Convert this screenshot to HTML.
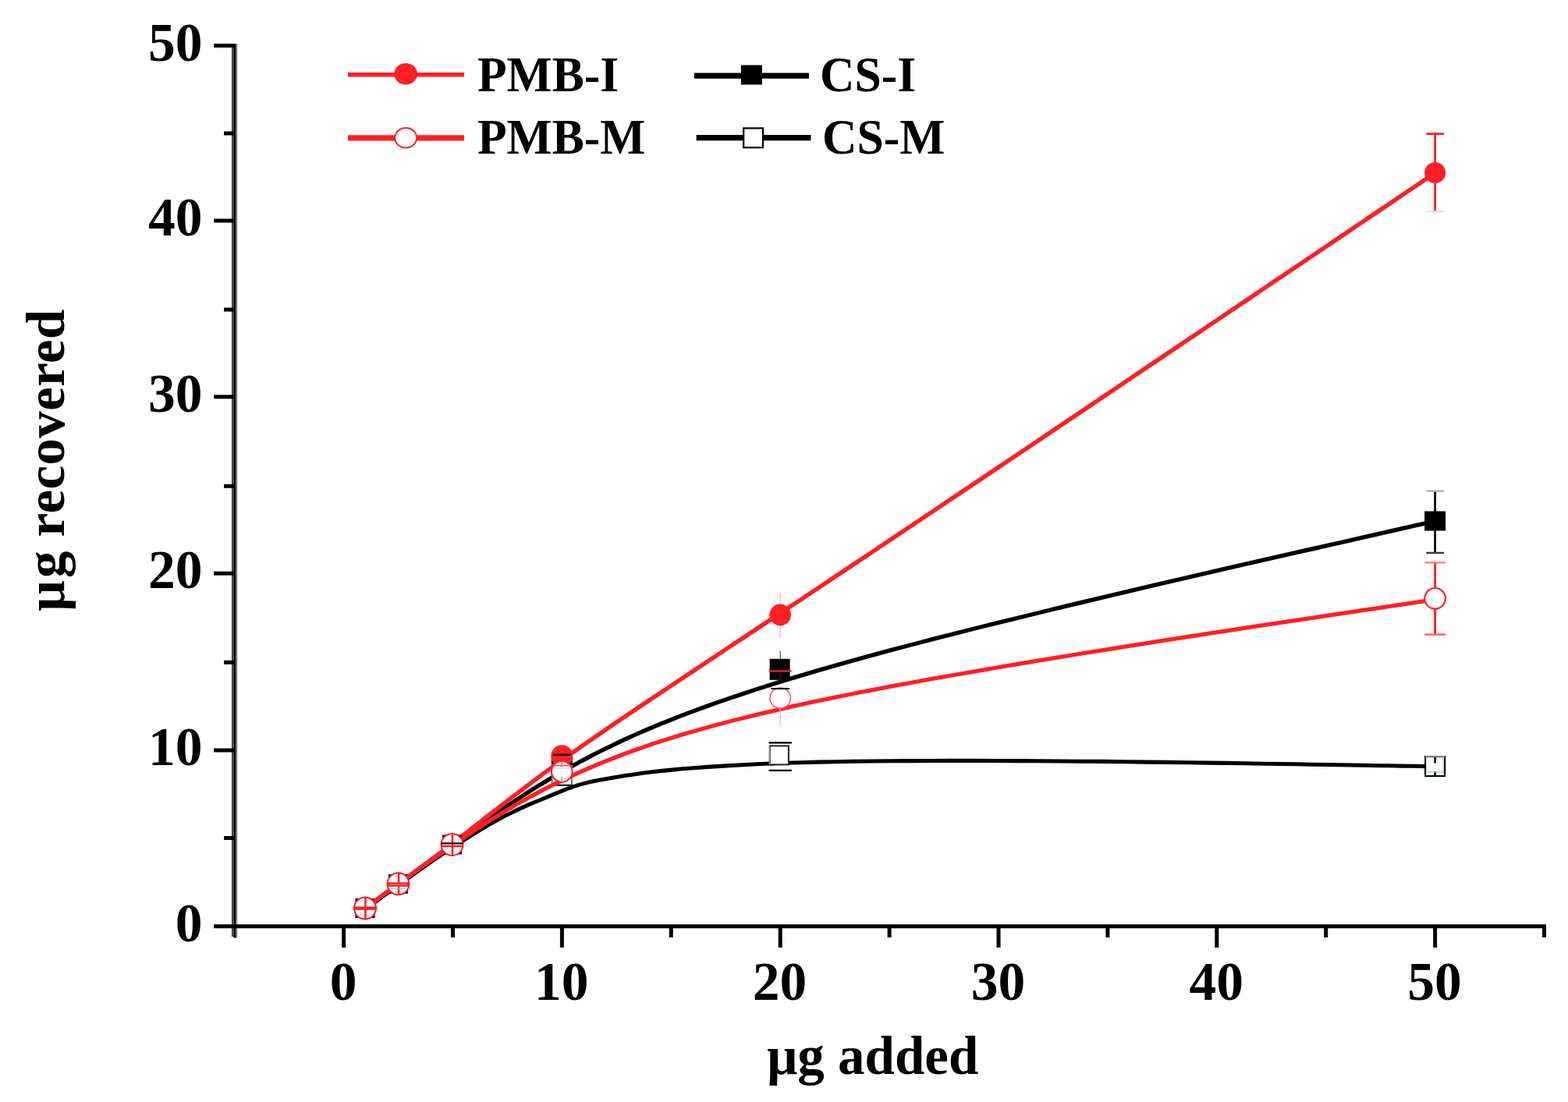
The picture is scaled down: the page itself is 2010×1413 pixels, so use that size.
<!DOCTYPE html>
<html lang="en">
<head>
<meta charset="utf-8">
<title>μg recovered vs μg added</title>
<style>
html,body{margin:0;padding:0;background:#fff;}
body{width:2010px;height:1413px;overflow:hidden;}
svg{display:block;}
</style>
</head>
<body>
<svg width="2010" height="1413" viewBox="0 0 2010 1413" role="img" aria-label="Line chart of μg recovered versus μg added for PMB-I, PMB-M, CS-I and CS-M">
<rect width="2010" height="1413" fill="#ffffff"/>
<g id="cs-i">
<path d="M468.6,1165.1 L468.6,1165.1 L468.6,1165.1 L468.6,1165.1 L468.6,1165.1 L468.6,1165.1 L468.7,1165.0 L468.8,1165.0 L468.8,1164.9 L468.9,1164.8 L469.1,1164.7 L469.3,1164.6 L469.5,1164.5 L469.7,1164.3 L470.0,1164.1 L470.3,1163.9 L470.7,1163.6 L471.1,1163.3 L471.5,1163.0 L472.1,1162.6 L472.6,1162.2 L473.3,1161.7 L474.0,1161.2 L474.7,1160.6 L475.6,1160.0 L476.5,1159.4 L477.5,1158.7 L478.5,1157.9 L479.6,1157.1 L480.8,1156.2 L482.1,1155.3 L483.4,1154.3 L484.8,1153.3 L486.3,1152.3 L487.8,1151.2 L489.4,1150.0 L491.0,1148.8 L492.7,1147.6 L494.5,1146.3 L496.3,1145.0 L498.2,1143.6 L500.1,1142.2 L502.1,1140.8 L504.2,1139.3 L506.3,1137.8 L508.4,1136.2 L510.6,1134.6 L512.9,1133.0 L515.2,1131.3 L517.6,1129.6 L520.0,1127.9 L522.4,1126.1 L525.0,1124.3 L527.5,1122.5 L530.2,1120.6 L532.9,1118.6 L535.7,1116.6 L538.5,1114.5 L541.5,1112.4 L544.5,1110.2 L547.6,1108.0 L550.7,1105.7 L554.0,1103.3 L557.4,1100.9 L560.8,1098.3 L564.4,1095.8 L568.0,1093.1 L571.8,1090.3 L575.6,1087.5 L579.6,1084.6 L583.7,1081.6 L587.8,1078.5 L592.2,1075.3 L596.6,1072.0 L601.2,1068.6 L605.8,1065.2 L610.7,1061.6 L615.6,1058.0 L620.8,1054.3 L626.0,1050.5 L631.5,1046.6 L637.0,1042.7 L642.8,1038.6 L648.7,1034.6 L654.8,1030.4 L661.1,1026.2 L667.6,1022.0 L674.2,1017.6 L681.1,1013.3 L688.2,1008.8 L695.4,1004.4 L702.9,999.9 L710.6,995.3 L718.6,990.7 L726.7,986.1 L735.1,981.4 L743.7,976.7 L752.6,972.0 L761.7,967.2 L771.2,962.4 L781.0,957.6 L791.1,952.8 L801.6,947.8 L812.6,942.9 L824.0,937.8 L835.9,932.8 L848.4,927.6 L861.3,922.4 L874.9,917.1 L889.0,911.8 L903.8,906.4 L919.3,900.8 L935.4,895.2 L952.3,889.6 L970.0,883.8 L988.4,877.9 L1007.6,871.9 L1027.8,865.8 L1048.7,859.6 L1070.6,853.3 L1093.5,846.9 L1117.3,840.4 L1141.9,833.7 L1167.3,827.0 L1193.4,820.2 L1220.1,813.4 L1247.2,806.5 L1274.7,799.6 L1302.5,792.8 L1330.4,786.0 L1358.3,779.2 L1386.3,772.5 L1414.1,765.8 L1441.6,759.3 L1468.8,752.9 L1495.6,746.7 L1521.8,740.6 L1547.4,734.6 L1572.2,728.9 L1596.2,723.4 L1619.2,718.2 L1641.1,713.2 L1661.9,708.4 L1681.5,704.0 L1699.7,699.9 L1716.5,696.1 L1731.8,692.6 L1745.9,689.4 L1758.6,686.5 L1770.2,683.9 L1780.6,681.5 L1789.9,679.4 L1798.1,677.5 L1805.4,675.9 L1811.8,674.4 L1817.4,673.2 L1822.1,672.1 L1826.1,671.2 L1829.5,670.4 L1832.2,669.8 L1834.4,669.3 L1836.1,668.9 L1837.4,668.6 L1838.3,668.4 L1839.0,668.3 L1839.3,668.2 L1839.5,668.1 L1839.6,668.1 L1839.6,668.1" stroke="#000000" stroke-width="5.4" fill="none" stroke-linejoin="round"/>
<line x1="1839.6" y1="629.5" x2="1839.6" y2="709.0" stroke="#000000" stroke-width="2.8" opacity="1.0"/>
<line x1="1828.3" y1="629.6" x2="1850.9" y2="629.6" stroke="#b9aca6" stroke-width="2.4" opacity="1.0"/>
<line x1="1828.3" y1="708.9" x2="1850.9" y2="708.9" stroke="#3e3636" stroke-width="2.4" opacity="1.0"/>
<rect x="1826.1" y="655.5" width="27" height="25" fill="#000000"/>
<line x1="1000.2" y1="834.6" x2="1000.2" y2="846.0" stroke="#6e6e6e" stroke-width="1.4" opacity="1.0"/>
<rect x="986.6" y="844.8" width="26" height="27" fill="#000000"/>
<rect x="706.8" y="966.4" width="27" height="26" fill="#000000"/>
<rect x="567.2" y="1070.7" width="24.6" height="24.6" fill="#000000"/>
<rect x="498.2" y="1121.0" width="24.6" height="24.6" fill="#000000"/>
<rect x="455.7" y="1152.3" width="24.6" height="24.6" fill="#000000"/>
</g>
<g id="pmb-i">
<path d="M468.6,1164.4 L468.6,1164.4 L468.6,1164.4 L468.6,1164.4 L468.6,1164.4 L468.6,1164.4 L468.7,1164.4 L468.8,1164.3 L468.8,1164.2 L468.9,1164.2 L469.1,1164.1 L469.3,1163.9 L469.5,1163.8 L469.7,1163.6 L470.0,1163.4 L470.3,1163.2 L470.7,1162.9 L471.1,1162.6 L471.5,1162.2 L472.1,1161.8 L472.6,1161.4 L473.3,1160.9 L474.0,1160.4 L474.7,1159.8 L475.6,1159.2 L476.5,1158.5 L477.5,1157.8 L478.5,1157.0 L479.6,1156.2 L480.8,1155.3 L482.1,1154.3 L483.4,1153.3 L484.8,1152.3 L486.3,1151.2 L487.8,1150.1 L489.4,1148.9 L491.0,1147.7 L492.7,1146.4 L494.5,1145.1 L496.3,1143.8 L498.2,1142.4 L500.1,1140.9 L502.1,1139.5 L504.2,1138.0 L506.3,1136.4 L508.4,1134.8 L510.6,1133.2 L512.9,1131.6 L515.2,1129.9 L517.6,1128.1 L520.0,1126.4 L522.4,1124.6 L525.0,1122.8 L527.5,1120.9 L530.2,1118.9 L532.9,1117.0 L535.7,1114.9 L538.5,1112.8 L541.5,1110.7 L544.5,1108.4 L547.6,1106.1 L550.7,1103.8 L554.0,1101.3 L557.4,1098.8 L560.8,1096.2 L564.4,1093.6 L568.0,1090.8 L571.8,1087.9 L575.6,1085.0 L579.6,1081.9 L583.7,1078.8 L587.8,1075.6 L592.2,1072.2 L596.6,1068.7 L601.2,1065.2 L605.8,1061.5 L610.7,1057.7 L615.6,1053.8 L620.8,1049.8 L626.0,1045.7 L631.5,1041.4 L637.0,1037.1 L642.8,1032.6 L648.7,1028.1 L654.8,1023.4 L661.1,1018.6 L667.6,1013.7 L674.2,1008.7 L681.1,1003.5 L688.2,998.3 L695.4,992.9 L702.9,987.4 L710.6,981.8 L718.6,976.1 L726.7,970.2 L735.1,964.3 L743.7,958.2 L752.6,952.0 L761.7,945.7 L771.2,939.2 L781.0,932.5 L791.1,925.6 L801.6,918.5 L812.6,911.1 L824.0,903.4 L835.9,895.5 L848.4,887.2 L861.3,878.5 L874.9,869.5 L889.0,860.1 L903.8,850.3 L919.3,840.0 L935.4,829.3 L952.3,818.1 L970.0,806.4 L988.4,794.1 L1007.6,781.3 L1027.8,768.0 L1048.7,754.0 L1070.6,739.4 L1093.5,724.1 L1117.3,708.2 L1141.9,691.7 L1167.3,674.7 L1193.4,657.2 L1220.1,639.3 L1247.2,621.1 L1274.7,602.6 L1302.5,584.0 L1330.4,565.2 L1358.3,546.4 L1386.3,527.6 L1414.1,508.8 L1441.6,490.3 L1468.8,471.9 L1495.6,453.9 L1521.8,436.2 L1547.4,419.0 L1572.2,402.2 L1596.2,386.1 L1619.2,370.5 L1641.1,355.7 L1661.9,341.7 L1681.5,328.5 L1699.7,316.2 L1716.5,304.9 L1731.8,294.5 L1745.9,285.0 L1758.6,276.4 L1770.2,268.6 L1780.6,261.6 L1789.9,255.3 L1798.1,249.7 L1805.4,244.8 L1811.8,240.5 L1817.4,236.8 L1822.1,233.6 L1826.1,230.8 L1829.5,228.6 L1832.2,226.7 L1834.4,225.2 L1836.1,224.1 L1837.4,223.2 L1838.3,222.6 L1839.0,222.2 L1839.3,221.9 L1839.5,221.8 L1839.6,221.8 L1839.6,221.8" stroke="#ff1f25" stroke-width="5.5" fill="none" stroke-linejoin="round"/>
<line x1="1839.6" y1="171.6" x2="1839.6" y2="271.5" stroke="#ff1f25" stroke-width="2.9" opacity="1.0"/>
<line x1="1828.3" y1="171.6" x2="1850.9" y2="171.6" stroke="#ff1f25" stroke-width="2.8" opacity="1.0"/>
<line x1="1828.3" y1="271.3" x2="1850.9" y2="271.3" stroke="#ffd9c9" stroke-width="2.6" opacity="1.0"/>
<circle cx="1839.6" cy="221.5" r="13.6" fill="#ff1f25"/>
<line x1="1000.2" y1="760.3" x2="1000.2" y2="816.6" stroke="#ffb3b3" stroke-width="1.3" opacity="1.0"/>
<circle cx="1000.2" cy="788.4" r="13.8" fill="#ff1f25"/>
<circle cx="720.3" cy="969.3" r="14.0" fill="#ff1f25"/>
<circle cx="579.5" cy="1083.0" r="13.8" fill="#ff1f25"/>
<circle cx="510.5" cy="1133.3" r="13.8" fill="#ff1f25"/>
<circle cx="468.0" cy="1164.6" r="13.8" fill="#ff1f25"/>
</g>
<g id="cs-m">
<path d="M468.6,1165.1 L468.6,1165.1 L468.6,1165.1 L468.6,1165.1 L468.6,1165.1 L468.6,1165.1 L468.7,1165.0 L468.8,1165.0 L468.8,1164.9 L468.9,1164.8 L469.1,1164.7 L469.3,1164.6 L469.5,1164.5 L469.7,1164.3 L470.0,1164.1 L470.3,1163.9 L470.7,1163.6 L471.1,1163.3 L471.5,1163.0 L472.1,1162.6 L472.6,1162.2 L473.3,1161.7 L474.0,1161.2 L474.7,1160.6 L475.6,1160.0 L476.5,1159.4 L477.5,1158.7 L478.5,1157.9 L479.6,1157.1 L480.8,1156.2 L482.1,1155.3 L483.4,1154.3 L484.8,1153.3 L486.3,1152.3 L487.8,1151.2 L489.4,1150.0 L491.0,1148.8 L492.7,1147.6 L494.5,1146.3 L496.3,1145.0 L498.2,1143.6 L500.1,1142.2 L502.1,1140.8 L504.2,1139.3 L506.3,1137.8 L508.4,1136.2 L510.6,1134.6 L512.9,1133.0 L515.2,1131.3 L517.6,1129.6 L520.0,1127.9 L522.4,1126.1 L525.0,1124.3 L527.5,1122.5 L530.2,1120.6 L532.9,1118.7 L535.7,1116.7 L538.5,1114.7 L541.5,1112.7 L544.5,1110.6 L547.6,1108.4 L550.7,1106.2 L554.0,1104.0 L557.4,1101.7 L560.8,1099.3 L564.4,1097.0 L568.0,1094.5 L571.8,1092.0 L575.6,1089.5 L579.6,1086.9 L583.7,1084.2 L587.8,1081.5 L592.2,1078.7 L596.6,1075.9 L601.2,1073.0 L605.8,1070.0 L610.7,1067.0 L615.6,1064.0 L620.8,1061.0 L626.0,1057.9 L631.5,1054.8 L637.0,1051.7 L642.8,1048.6 L648.7,1045.6 L654.8,1042.5 L661.1,1039.4 L667.6,1036.4 L674.2,1033.4 L681.1,1030.4 L688.2,1027.5 L695.4,1024.5 L702.9,1021.4 L710.6,1018.1 L718.6,1014.8 L726.7,1011.6 L735.1,1008.6 L743.7,1005.9 L752.6,1003.6 L761.7,1001.5 L771.2,999.7 L781.0,997.9 L791.1,996.2 L801.6,994.5 L812.6,992.9 L824.0,991.3 L835.9,989.8 L848.4,988.4 L861.3,987.1 L874.9,985.8 L889.0,984.7 L903.8,983.6 L919.3,982.6 L935.4,981.6 L952.3,980.7 L970.0,979.8 L988.4,979.0 L1007.6,978.3 L1027.8,977.7 L1048.7,977.1 L1070.6,976.7 L1093.5,976.3 L1117.3,976.0 L1141.9,975.7 L1167.3,975.6 L1193.4,975.5 L1220.1,975.4 L1247.2,975.4 L1274.7,975.5 L1302.5,975.6 L1330.4,975.8 L1358.3,976.0 L1386.3,976.2 L1414.1,976.4 L1441.6,976.7 L1468.8,977.1 L1495.6,977.4 L1521.8,977.7 L1547.4,978.1 L1572.2,978.4 L1596.2,978.8 L1619.2,979.2 L1641.1,979.5 L1661.9,979.8 L1681.5,980.2 L1699.7,980.5 L1716.5,980.8 L1731.8,981.0 L1745.9,981.2 L1758.6,981.5 L1770.2,981.7 L1780.6,981.8 L1789.9,982.0 L1798.1,982.1 L1805.4,982.2 L1811.8,982.3 L1817.4,982.4 L1822.1,982.5 L1826.1,982.6 L1829.5,982.6 L1832.2,982.7 L1834.4,982.7 L1836.1,982.8 L1837.4,982.8 L1838.3,982.8 L1839.0,982.8 L1839.3,982.8 L1839.5,982.8 L1839.6,982.8 L1839.6,982.8" stroke="#000000" stroke-width="5.1" fill="none" stroke-linejoin="round"/>
<rect x="1827.1" y="970.1" width="25" height="25" fill="#fff" stroke="#000000" stroke-width="2.1"/>
<rect x="986.9" y="956.4" width="24" height="24" fill="#fff" stroke="#222" stroke-width="2.0"/>
<line x1="986.6" y1="957.0" x2="986.6" y2="980.0" stroke="#8d8d8d" stroke-width="2.0" opacity="1.0"/>
<line x1="985.6" y1="952.4" x2="1014.8" y2="952.4" stroke="#000000" stroke-width="2.3" opacity="1.0"/>
<line x1="985.6" y1="987.9" x2="1014.8" y2="987.9" stroke="#000000" stroke-width="2.3" opacity="1.0"/>
<rect x="707.6" y="981.2" width="25.4" height="25.4" fill="#fff" stroke="#6a6a6a" stroke-width="1.8"/>
<line x1="706.6" y1="1006.8" x2="734.0" y2="1006.8" stroke="#000000" stroke-width="1.6" opacity="1.0"/>
<rect x="568.2" y="1071.7" width="22.6" height="22.6" fill="#fff" stroke="#000000" stroke-width="2.0"/>
<rect x="499.2" y="1122.0" width="22.6" height="22.6" fill="#fff" stroke="#000000" stroke-width="2.0"/>
<rect x="456.7" y="1153.3" width="22.6" height="22.6" fill="#fff" stroke="#000000" stroke-width="2.0"/>
</g>
<g id="pmb-m">
<path d="M468.6,1164.4 L468.6,1164.4 L468.6,1164.4 L468.6,1164.4 L468.6,1164.4 L468.6,1164.4 L468.7,1164.4 L468.8,1164.3 L468.8,1164.2 L468.9,1164.2 L469.1,1164.1 L469.3,1163.9 L469.5,1163.8 L469.7,1163.6 L470.0,1163.4 L470.3,1163.2 L470.7,1162.9 L471.1,1162.6 L471.5,1162.2 L472.1,1161.8 L472.6,1161.4 L473.3,1160.9 L474.0,1160.4 L474.7,1159.8 L475.6,1159.2 L476.5,1158.5 L477.5,1157.8 L478.5,1157.0 L479.6,1156.2 L480.8,1155.3 L482.1,1154.3 L483.4,1153.3 L484.8,1152.3 L486.3,1151.2 L487.8,1150.1 L489.4,1148.9 L491.0,1147.7 L492.7,1146.4 L494.5,1145.1 L496.3,1143.8 L498.2,1142.4 L500.1,1140.9 L502.1,1139.5 L504.2,1138.0 L506.3,1136.4 L508.4,1134.8 L510.6,1133.2 L512.9,1131.6 L515.2,1129.9 L517.6,1128.1 L520.0,1126.4 L522.4,1124.6 L525.0,1122.8 L527.5,1120.9 L530.2,1119.0 L532.9,1117.0 L535.7,1115.0 L538.5,1113.0 L541.5,1110.9 L544.5,1108.8 L547.6,1106.6 L550.7,1104.3 L554.0,1102.0 L557.4,1099.7 L560.8,1097.3 L564.4,1094.8 L568.0,1092.3 L571.8,1089.7 L575.6,1087.0 L579.6,1084.3 L583.7,1081.5 L587.8,1078.6 L592.2,1075.7 L596.6,1072.7 L601.2,1069.6 L605.8,1066.5 L610.7,1063.3 L615.6,1060.0 L620.8,1056.7 L626.0,1053.3 L631.5,1049.9 L637.0,1046.4 L642.8,1042.9 L648.7,1039.3 L654.8,1035.7 L661.1,1032.0 L667.6,1028.3 L674.2,1024.6 L681.1,1020.8 L688.2,1017.1 L695.4,1013.2 L702.9,1009.4 L710.6,1005.5 L718.6,1001.7 L726.7,997.8 L735.1,993.9 L743.7,989.9 L752.6,986.0 L761.7,982.1 L771.2,978.1 L781.0,974.2 L791.1,970.2 L801.6,966.2 L812.6,962.2 L824.0,958.2 L835.9,954.1 L848.4,950.1 L861.3,946.0 L874.9,941.8 L889.0,937.7 L903.8,933.5 L919.3,929.3 L935.4,925.0 L952.3,920.7 L970.0,916.4 L988.4,912.1 L1007.6,907.6 L1027.8,903.2 L1048.7,898.7 L1070.6,894.1 L1093.5,889.5 L1117.3,884.9 L1141.9,880.2 L1167.3,875.5 L1193.4,870.7 L1220.1,866.0 L1247.2,861.3 L1274.7,856.5 L1302.5,851.9 L1330.4,847.2 L1358.3,842.6 L1386.3,838.0 L1414.1,833.6 L1441.6,829.2 L1468.8,824.9 L1495.6,820.7 L1521.8,816.6 L1547.4,812.7 L1572.2,808.9 L1596.2,805.2 L1619.2,801.7 L1641.1,798.4 L1661.9,795.3 L1681.5,792.4 L1699.7,789.6 L1716.5,787.1 L1731.8,784.8 L1745.9,782.7 L1758.6,780.8 L1770.2,779.1 L1780.6,777.5 L1789.9,776.1 L1798.1,774.9 L1805.4,773.8 L1811.8,772.8 L1817.4,772.0 L1822.1,771.3 L1826.1,770.7 L1829.5,770.2 L1832.2,769.8 L1834.4,769.4 L1836.1,769.2 L1837.4,769.0 L1838.3,768.8 L1839.0,768.8 L1839.3,768.7 L1839.5,768.7 L1839.6,768.7 L1839.6,768.7" stroke="#ff1f25" stroke-width="5.3" fill="none" stroke-linejoin="round"/>
<line x1="1839.6" y1="721.4" x2="1839.6" y2="813.6" stroke="#ff1f25" stroke-width="2.9" opacity="1.0"/>
<line x1="1826.2" y1="721.4" x2="1853.0" y2="721.4" stroke="#ff8a8a" stroke-width="2.6" opacity="1.0"/>
<line x1="1826.2" y1="813.6" x2="1853.0" y2="813.6" stroke="#ff6a6e" stroke-width="2.6" opacity="1.0"/>
<circle cx="1839.6" cy="767.3" r="13.3" fill="#fff" stroke="#ff1f25" stroke-width="2.2"/>
<line x1="1000.2" y1="884.0" x2="1000.2" y2="931.2" stroke="#ffb0b8" stroke-width="1.3" opacity="1.0"/>
<circle cx="1000.2" cy="895.1" r="13.2" fill="#fff" stroke="#ff4a50" stroke-width="1.5"/>
<circle cx="720.3" cy="989.4" r="13.3" fill="#fff" stroke="#ff1f25" stroke-width="2.0"/>
<circle cx="579.5" cy="1083.0" r="14.0" fill="#fff" stroke="#ff1f25" stroke-width="2.0"/>
<circle cx="510.5" cy="1133.3" r="14.0" fill="#fff" stroke="#ff1f25" stroke-width="2.0"/>
<circle cx="468.0" cy="1164.6" r="14.0" fill="#fff" stroke="#ff1f25" stroke-width="2.0"/>
</g>
<g id="errorbars">
<line x1="1827.1" y1="970.2" x2="1852.1" y2="970.2" stroke="#9a7f8c" stroke-width="2.2" opacity="1.0"/>
<line x1="1839.6" y1="971.0" x2="1839.6" y2="978.6" stroke="#000000" stroke-width="2.6" opacity="1.0"/>
<line x1="1839.6" y1="989.0" x2="1839.6" y2="995.0" stroke="#000000" stroke-width="2.6" opacity="1.0"/>
<line x1="1828.6" y1="990.0" x2="1850.6" y2="990.0" stroke="#9cc0c4" stroke-width="1.6" opacity="0.8"/>
<line x1="1849.8" y1="972.0" x2="1849.8" y2="994.0" stroke="#cfd6d6" stroke-width="1.6" opacity="1.0"/>
<line x1="985.7" y1="860.5" x2="1014.7" y2="860.5" stroke="#ff1f25" stroke-width="2.2" opacity="1.0"/>
<line x1="1000.2" y1="861.6" x2="1000.2" y2="872.0" stroke="#3a1616" stroke-width="1.6" opacity="1.0"/>
<line x1="988.2" y1="883.0" x2="1012.2" y2="883.0" stroke="#000000" stroke-width="2.0" opacity="1.0"/>
<line x1="709.1" y1="967.7" x2="731.5" y2="967.7" stroke="#000000" stroke-width="2.2" opacity="1.0"/>
<line x1="709.3" y1="981.7" x2="731.3" y2="981.7" stroke="#ff5a60" stroke-width="1.8" opacity="1.0"/>
<line x1="709.3" y1="984.6" x2="731.3" y2="984.6" stroke="#cfe3e3" stroke-width="1.6" opacity="1.0"/>
<line x1="720.3" y1="976.0" x2="720.3" y2="983.0" stroke="#ff5a60" stroke-width="1.6" opacity="1.0"/>
<line x1="720.3" y1="996.0" x2="720.3" y2="1001.0" stroke="#ff7a80" stroke-width="1.6" opacity="1.0"/>
<line x1="580.0" y1="1068.5" x2="580.0" y2="1097.5" stroke="#ff1f25" stroke-width="2.6" opacity="1.0"/>
<line x1="565.5" y1="1085.0" x2="593.5" y2="1085.0" stroke="#ff1f25" stroke-width="2.6" opacity="1.0"/>
<line x1="565.5" y1="1081.4" x2="593.5" y2="1081.4" stroke="#000000" stroke-width="2.2" opacity="1.0"/>
<line x1="511.0" y1="1118.8" x2="511.0" y2="1147.8" stroke="#ff1f25" stroke-width="2.6" opacity="1.0"/>
<line x1="496.5" y1="1134.1" x2="524.5" y2="1134.1" stroke="#ff1f25" stroke-width="5.6" opacity="1.0"/>
<line x1="499.5" y1="1134.2" x2="521.5" y2="1134.2" stroke="#ff7076" stroke-width="1.6" opacity="1.0"/>
<line x1="501.5" y1="1139.3" x2="519.5" y2="1139.3" stroke="#9dbcbc" stroke-width="1.5" opacity="0.8"/>
<line x1="468.5" y1="1150.1" x2="468.5" y2="1179.1" stroke="#ff1f25" stroke-width="2.6" opacity="1.0"/>
<line x1="453.5" y1="1164.6" x2="482.5" y2="1164.6" stroke="#ff1f25" stroke-width="4.3" opacity="1.0"/>
</g>
<g id="axes" stroke="#000000" stroke-width="5.0" fill="none" stroke-linecap="butt">
<line x1="298.2" y1="56" x2="298.2" y2="1201" stroke="#4c4646" stroke-width="2.6"/>
<line x1="303.1" y1="56" x2="303.1" y2="1202.4" stroke="#7a7a7a" stroke-width="2.2"/>
<line x1="300.75" y1="56" x2="300.75" y2="1202.4" stroke-width="2.6"/>
<line x1="274.2" y1="1187.7" x2="1981.9" y2="1187.7"/>
<line x1="287" y1="1074.5" x2="300.5" y2="1074.5"/>
<line x1="274.2" y1="962.0" x2="300.5" y2="962.0"/>
<line x1="287" y1="849.3" x2="300.5" y2="849.3"/>
<line x1="274.2" y1="735.2" x2="300.5" y2="735.2"/>
<line x1="287" y1="623.3" x2="300.5" y2="623.3"/>
<line x1="274.2" y1="508.8" x2="300.5" y2="508.8"/>
<line x1="287" y1="397.0" x2="300.5" y2="397.0"/>
<line x1="274.2" y1="283.0" x2="300.5" y2="283.0"/>
<line x1="287" y1="171.0" x2="300.5" y2="171.0"/>
<line x1="274.2" y1="58.5" x2="300.5" y2="58.5"/>
<line x1="440.6" y1="1187.7" x2="440.6" y2="1215"/>
<line x1="580.5" y1="1187.7" x2="580.5" y2="1202"/>
<line x1="720.4" y1="1187.7" x2="720.4" y2="1215"/>
<line x1="860.3" y1="1187.7" x2="860.3" y2="1202"/>
<line x1="1000.2" y1="1187.7" x2="1000.2" y2="1215"/>
<line x1="1140.1" y1="1187.7" x2="1140.1" y2="1202"/>
<line x1="1280.0" y1="1187.7" x2="1280.0" y2="1215"/>
<line x1="1419.9" y1="1187.7" x2="1419.9" y2="1202"/>
<line x1="1559.8" y1="1187.7" x2="1559.8" y2="1215"/>
<line x1="1699.7" y1="1187.7" x2="1699.7" y2="1202"/>
<line x1="1839.6" y1="1187.7" x2="1839.6" y2="1215"/>
<line x1="1979.5" y1="1187.7" x2="1979.5" y2="1202"/>
</g>
<g id="ticklabels" font-family="'Liberation Serif', serif" font-weight="bold" font-size="69.5px" fill="#000000">
<text x="259.4" y="1206.9" text-anchor="end">0</text>
<text x="259.4" y="981.2" text-anchor="end">10</text>
<text x="259.4" y="754.4" text-anchor="end">20</text>
<text x="259.4" y="528.0" text-anchor="end">30</text>
<text x="259.4" y="302.2" text-anchor="end">40</text>
<text x="259.4" y="77.7" text-anchor="end">50</text>
<text x="440.0" y="1281.8" text-anchor="middle">0</text>
<text x="719.8" y="1281.8" text-anchor="middle">10</text>
<text x="999.6" y="1281.8" text-anchor="middle">20</text>
<text x="1279.4" y="1281.8" text-anchor="middle">30</text>
<text x="1559.2" y="1281.8" text-anchor="middle">40</text>
<text x="1839.0" y="1281.8" text-anchor="middle">50</text>
</g>
<g id="titles" font-family="'Liberation Serif', serif" font-weight="bold" font-size="69px" fill="#000000">
<text x="1118.8" y="1376.6" text-anchor="middle">μg added</text>
<text transform="translate(81.6,589.8) rotate(-90)" text-anchor="middle" letter-spacing="0.4"><tspan>μ</tspan><tspan dx="3">g recovered</tspan></text>
</g>
<g id="legend">
<line x1="446" y1="95.8" x2="595" y2="95.8" stroke="#ff1f25" stroke-width="5.4"/>
<line x1="446" y1="176.9" x2="595" y2="176.9" stroke="#ff1f25" stroke-width="7.2"/>
<line x1="889.9" y1="97.2" x2="1037" y2="97.2" stroke="#000000" stroke-width="7.2"/>
<line x1="892.6" y1="176.7" x2="1039.5" y2="176.7" stroke="#000000" stroke-width="7.2"/>
<ellipse cx="520.1" cy="94.8" rx="14.95" ry="13.8" fill="#ff1f25"/>
<ellipse cx="520.2" cy="176.7" rx="14.0" ry="12.8" fill="#fff" stroke="#ff1f25" stroke-width="2"/>
<rect x="949.9" y="83.5" width="27" height="25" fill="#000000"/>
<rect x="953.2" y="164.4" width="24.8" height="24.8" fill="#fff" stroke="#000000" stroke-width="2.2"/>
<g font-family="'Liberation Serif', serif" font-weight="bold" font-size="61.6px" fill="#000000">
<text transform="translate(611.9,117.1) scale(1,1.035)">PMB-I</text>
<text transform="translate(611.9,196.8) scale(1,1.035)">PMB-M</text>
<text transform="translate(1051.0,117.1) scale(1,1.035)">CS-I</text>
<text transform="translate(1054.0,196.8) scale(1,1.035)">CS-M</text>
</g>
</g>
</svg>
</body>
</html>
